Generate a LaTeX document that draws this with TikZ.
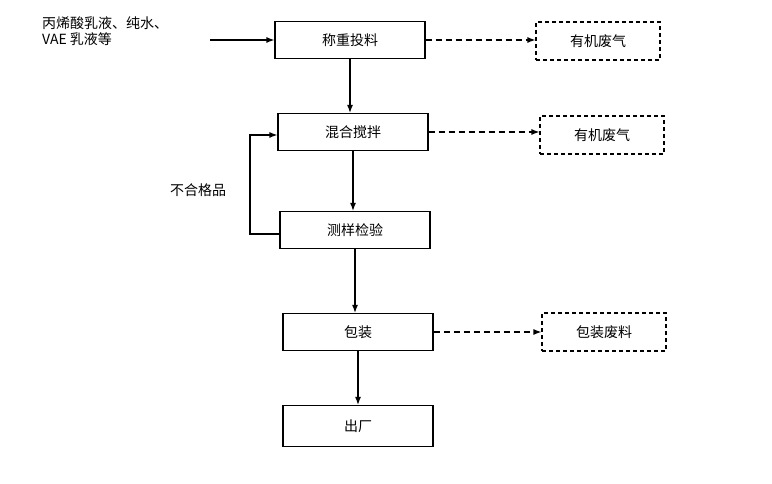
\documentclass[tikz,border=0pt]{standalone}
\usepackage{fontspec}
\newfontfamily\cjk{Noto Sans CJK SC}
\usetikzlibrary{arrows.meta}
\begin{document}
\begin{tikzpicture}[x=1pt,y=-1pt,font=\cjk\fontsize{14}{16}\selectfont,
 box/.style={draw,line width=1.2pt,minimum width=150pt,minimum height=37pt,inner sep=0},
 dbox/.style={draw,dash pattern=on 4pt off 3pt,line width=1.2pt,minimum width=124pt,minimum height=38pt,inner sep=0},
 arr/.style={-{Latex[length=8pt,width=6pt]},line width=1.2pt},
 darr/.style={arr,dash pattern=on 6pt off 4pt}]
\useasboundingbox (0,0) rectangle (772,484);
\node[box] (a) at (350,40) {称重投料};
\node[box] (b) at (353,132) {混合搅拌};
\node[box] (c) at (355,230) {测样检验};
\node[box] (d) at (358,332) {包装};
\node[box,minimum height=41pt] (e) at (358,426) {出厂};
\node[dbox] (w1) at (598,41) {有机废气};
\node[dbox] (w2) at (602,135) {有机废气};
\node[dbox] (w3) at (604,332) {包装废料};
\node[align=left,anchor=north west,inner sep=0] (in) at (42,16) {丙烯酸乳液、纯水、\\VAE 乳液等};
\coordinate (s) at (210,40);
\draw[arr] (s) -- (a.west);
\draw[arr] (a.south) -- (a.south|-b.north);
\draw[arr] (b.south) -- (b.south|-c.north);
\draw[arr] (c.south) -- (c.south|-d.north);
\draw[arr] (d.south) -- (d.south|-e.north);
\draw[darr] (a.east) -- (w1.west|-a.east);
\draw[darr] (b.east) -- (w2.west|-b.east);
\draw[darr] (d.east) -- (w3.west|-d.east);
\coordinate (l1) at (250,234);
\coordinate (l2) at (250,135);
\draw[arr] (c.west|-l1) -- (l1) -- (l2) -- (b.west|-l2);
\node (lab) at (198,190) {不合格品};
\end{tikzpicture}
\end{document}
